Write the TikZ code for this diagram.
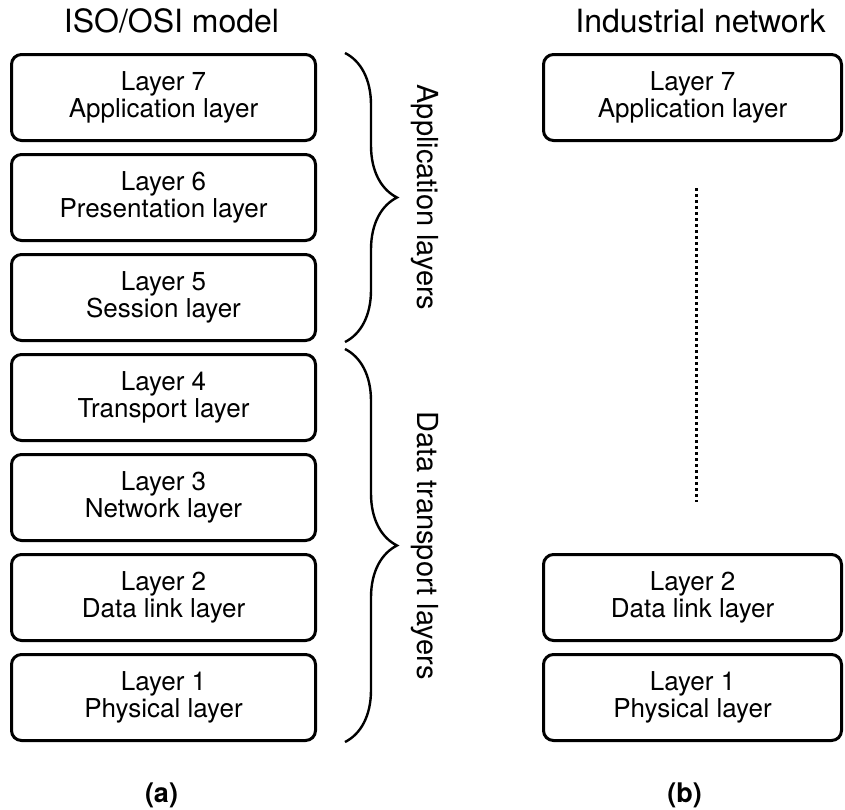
\documentclass[tikz,border=0pt]{standalone}
\usepackage{fontspec}
\setmainfont{TeX Gyre Heros}
\usetikzlibrary{positioning,decorations.pathreplacing}

\tikzset{
  layer/.style={draw, line width=1.5pt, rounded corners=5pt, minimum width=152pt,
    minimum height=43pt, inner sep=0pt, align=center,
    font=\fontsize{13}{12}\selectfont},
  indlayer/.style={layer, minimum width=149pt},
  title/.style={inner sep=0pt, text depth=0pt, font=\fontsize{16}{16}\selectfont},
  tag/.style={inner sep=0pt, font=\fontsize{13.5}{13.5}\selectfont\bfseries},
  grouping/.style={decorate, decoration={brace, amplitude=26pt}, line width=1.2pt},
  grouplabel/.style={rotate=-90, anchor=base, inner sep=0pt,
    font=\fontsize{14.5}{14.5}\selectfont},
  dotline/.style={line width=1.8pt, dash pattern=on 1.4pt off 1.6pt}
}

\begin{document}
\begin{tikzpicture}[node distance=5.5pt]
  \useasboundingbox (0,0) rectangle (422.5pt,-404.5pt);

  % (a) ISO/OSI stack
  \node[layer] (osi7) at (81.75pt,-48.75pt) {Layer 7\\Application layer};
  \node[layer] (osi6) [below=of osi7] {Layer 6\\Presentation layer};
  \node[layer] (osi5) [below=of osi6] {Layer 5\\Session layer};
  \node[layer] (osi4) [below=of osi5] {Layer 4\\Transport layer};
  \node[layer] (osi3) [below=of osi4] {Layer 3\\Network layer};
  \node[layer] (osi2) [below=of osi3] {Layer 2\\Data link layer};
  \node[layer] (osi1) [below=of osi2] {Layer 1\\Physical layer};

  % (b) industrial stack
  \node[indlayer] (ind7) [right=112.5pt of osi7] {Layer 7\\Application layer};
  \node[indlayer] (ind2) [right=112.5pt of osi2] {Layer 2\\Data link layer};
  \node[indlayer] (ind1) [below=of ind2] {Layer 1\\Physical layer};

  \node[title] (osiTitle) [above=10pt of osi7, xshift=4pt] {ISO/OSI model};
  \node[title] (indTitle) [above=10pt of ind7, xshift=4pt] {Industrial network};
  \node[tag] (tagA) [below=20pt of osi1, xshift=-1pt] {(a)};
  \node[tag] (tagB) [below=20pt of ind1, xshift=-4pt] {(b)};

  % braces
  \coordinate (appTop) at ([xshift=14pt]osi7.north east);
  \coordinate (appBot) at ([xshift=14pt]osi5.south east);
  \coordinate (dataTop) at ([xshift=14pt,yshift=2pt]osi4.north east);
  \coordinate (dataBot) at ([xshift=14pt]osi1.south east);
  \path (appTop) -- (appBot) coordinate[midway] (appMid);
  \path (dataTop) -- (dataBot) coordinate[midway] (dataMid);
  \draw[grouping] (appTop) -- (appBot);
  \draw[grouping] (dataTop) -- (dataBot);
  \node[grouplabel] (appLabel) at ([xshift=36pt]appMid) {Application layers};
  \node[grouplabel] (dataLabel) at ([xshift=36pt]dataMid) {Data transport layers};

  % omitted layers
  \draw[dotline] ([xshift=2pt,yshift=-23pt]ind7.south) -- ([xshift=2pt,yshift=25.5pt]ind2.north);
\end{tikzpicture}
\end{document}
